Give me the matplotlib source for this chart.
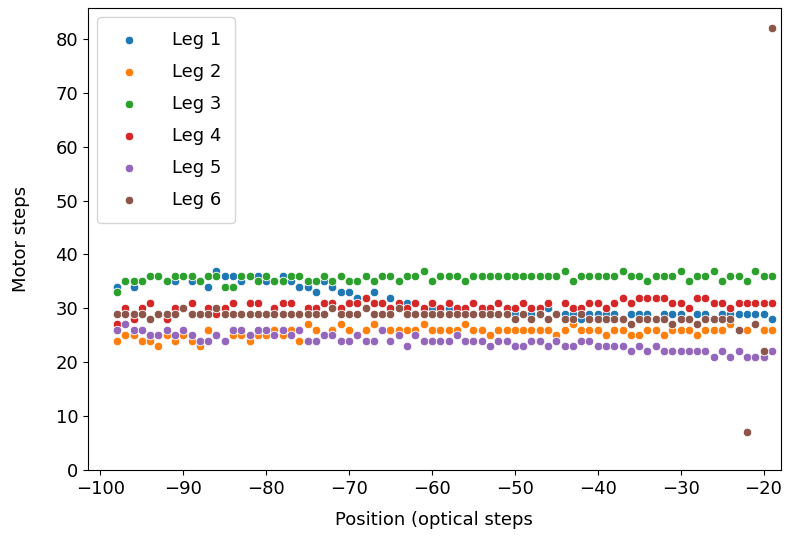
import numpy as np
import matplotlib
matplotlib.use('Agg')
import matplotlib.pyplot as plt

positions = list(range(-98, -18))

leg1 = [34, 35, 34, 35, 36, 36, 35, 35, 36, 35, 35, 34,
        37, 36, 36, 35, 36, 36, 35, 35, 36, 35, 34, 34,
        33, 35, 34, 33, 33, 32, 32, 33, 31, 32, 31, 31,
        31, 30, 30, 30, 30, 30, 29, 29, 30, 29, 29, 30,
        29, 29, 29, 29, 30, 29, 29, 29, 28, 29, 29, 29,
        29, 28, 29, 29, 29, 28, 29, 29, 29, 28, 29, 29,
        28, 29, 29, 29, 29, 29, 29, 28]
leg2 = [24, 25, 25, 24, 24, 23, 25, 24, 25, 24, 23, 26,
        25, 24, 25, 25, 24, 25, 25, 26, 25, 26, 24, 27,
        26, 25, 26, 27, 26, 25, 26, 27, 26, 26, 26, 26,
        26, 27, 26, 26, 26, 26, 27, 26, 26, 25, 26, 26,
        26, 26, 26, 26, 26, 25, 26, 27, 26, 26, 26, 25,
        26, 26, 25, 25, 26, 26, 25, 26, 26, 26, 25, 26,
        26, 26, 27, 26, 26, 27, 26, 26]
leg3 = [33, 35, 35, 35, 36, 36, 35, 36, 36, 36, 35, 36,
        36, 34, 34, 36, 36, 35, 36, 35, 35, 36, 36, 35,
        35, 36, 35, 36, 35, 35, 36, 35, 36, 36, 35, 36,
        36, 37, 35, 36, 36, 36, 35, 36, 36, 36, 36, 36,
        36, 36, 36, 36, 36, 36, 37, 35, 36, 36, 36, 36,
        36, 37, 36, 36, 35, 36, 36, 36, 37, 35, 36, 36,
        37, 35, 36, 36, 35, 37, 36, 36]
leg4 = [27, 30, 28, 30, 31, 29, 28, 30, 30, 31, 29, 30,
        29, 30, 31, 29, 31, 31, 29, 30, 31, 31, 29, 30,
        30, 31, 31, 30, 31, 31, 32, 31, 31, 30, 31, 30,
        31, 30, 31, 30, 31, 30, 30, 31, 30, 30, 31, 30,
        30, 31, 30, 30, 31, 29, 31, 30, 30, 31, 31, 30,
        31, 32, 31, 32, 32, 32, 32, 31, 31, 30, 32, 32,
        31, 31, 30, 31, 31, 31, 31, 31]
leg5 = [26, 27, 26, 26, 25, 25, 26, 25, 26, 25, 24, 24,
        25, 24, 26, 26, 25, 26, 26, 25, 26, 25, 26, 24,
        24, 25, 25, 24, 24, 25, 24, 24, 26, 24, 25, 23,
        25, 24, 24, 24, 24, 25, 24, 24, 24, 23, 24, 24,
        23, 23, 24, 24, 23, 24, 23, 23, 24, 24, 23, 23,
        23, 23, 22, 23, 22, 23, 22, 22, 22, 22, 22, 22,
        21, 22, 21, 22, 21, 21, 21, 22]
leg6 = [29, 29, 29, 29, 28, 29, 29, 29, 30, 29, 29, 29,
        30, 29, 29, 29, 29, 29, 29, 29, 29, 29, 29, 29,
        29, 29, 30, 29, 29, 29, 30, 29, 29, 29, 30, 29,
        29, 29, 29, 29, 29, 29, 29, 29, 29, 29, 29, 29,
        28, 29, 28, 29, 28, 29, 28, 28, 29, 28, 28, 28,
        28, 28, 27, 28, 28, 28, 28, 27, 28, 28, 27, 28,
        28, 28, 28, 26, 7, 27, 22, 82]

legs = [leg1, leg2, leg3, leg4, leg5, leg6]
names = ['Leg 1', 'Leg 2', 'Leg 3', 'Leg 4', 'Leg 5', 'Leg 6']

fig = plt.figure(figsize=(7.92, 5.4), dpi=100)
ax = fig.add_axes([0.111, 0.13, 0.875, 0.855])
for vals, name in zip(legs, names):
    ax.scatter(positions, vals, s=38, edgecolors='white', linewidths=0.6, label=name)

ax.set_xlim(-101.5, -17.9)
ax.set_ylim(0, 85.75)
ax.set_xlabel('Position (optical steps', fontsize=13, labelpad=10)
ax.set_ylabel('Motor steps', fontsize=13, labelpad=18)
ax.tick_params(labelsize=13)
ax.legend(loc='upper left', fontsize=13, handletextpad=1.4, borderpad=0.75, labelspacing=0.78)

fig.savefig('out.png', dpi=100)
